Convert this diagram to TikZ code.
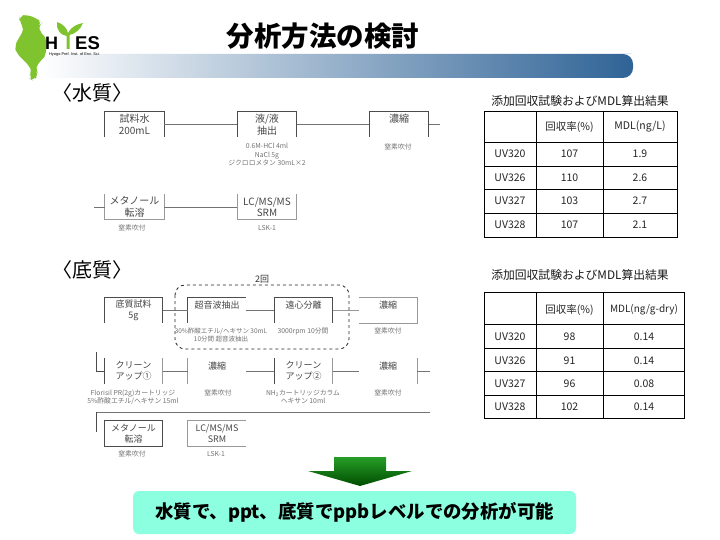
\documentclass[tikz,border=0pt]{standalone}
\usepackage{fontspec}
\setmainfont{Noto Sans CJK JP}
\newfontfamily\logofont{Liberation Sans}
\usetikzlibrary{calc}
\definecolor{bannerblue}{HTML}{2F6396}
\definecolor{leafgreen}{HTML}{7FC42E}
\definecolor{calloutfill}{HTML}{8CFFE0}
\newcommand{\fs}[1]{\fontsize{#1}{#1}\selectfont}
\tikzset{
  flowbox/.style={inner sep=0pt,minimum width=#1,align=center,font=\fontsize{10}{11.5}\selectfont,text=black!72},
  flowbox/.default=59pt,
  wbox/.style={flowbox=59pt,minimum height=25pt},
  sbox/.style={flowbox=58pt,minimum height=25pt,font=\fontsize{9}{11}\selectfont},
  boxline/.style={draw=black!70,line width=0.8pt},
  paleline/.style={draw=black!40,line width=0.8pt},
  linkline/.style={draw=black!55,line width=0.7pt},
  notetext/.style={inner sep=0pt,align=center,font=\fontsize{6.8}{8.2}\selectfont,text=black!55},
  cell/.style={inner sep=0pt,font=\fontsize{10.5}{12}\selectfont,text=black!85},
  gridline/.style={draw=black,line width=0.8pt},
  section/.style={inner sep=0pt,font=\fs{20}},
  caption/.style={inner sep=0pt,font=\fs{11.8},text=black!90}
}
\begin{document}
\begin{tikzpicture}[x=1pt,y=-1pt]
\useasboundingbox (0,0) rectangle (720,540);
\fill[white] (0,0) rectangle (720,540);
% banner
\path[left color=white,right color=bannerblue,shading angle=90,rounded corners=10pt]
  (40,54) [sharp corners] -- (40,78) -- (622,78) [rounded corners=10pt] -- (633,78) -- (633,54) -- (622,54) [sharp corners] -- cycle;
% logo
\begin{scope}[shift={(10,10)},x=0.3333pt,y=-0.3333pt]
  \fill[leafgreen,rounded corners=5pt] (28,18) -- (50,14) -- (80,25) -- (96,38) -- (88,48) -- (85,60) -- (100,75) -- (110,88) -- (108,135) -- (95,150) -- (80,165) -- (78,180) -- (86,195) -- (70,212) -- (56,205) -- (65,185) -- (60,170) -- (45,155) -- (20,130) -- (14,110) -- (25,85) -- (38,70) -- (40,50) -- (28,32) -- cycle;
\end{scope}
\fill[leafgreen] (66.5,49) -- (66.5,36) .. controls (60,35) and (56,29) .. (57,22) .. controls (63,24) and (67,28) .. (68,33) .. controls (71,27) and (77,24) .. (83,23) .. controls (81,29) and (75,34) .. (69.5,35) -- (69.5,49) -- cycle;
\node[inner sep=0pt,font=\logofont\bfseries\fs{18},anchor=center] (logoH) at (51.5,43) {H};
\node[inner sep=0pt,font=\logofont\bfseries\fs{18.5},anchor=center] (logoES) at (87.5,43) {ES};
\node[inner sep=0pt,font=\logofont\fs{3.9},anchor=center] (logosub) at (74.5,54) {Hyogo Pref. Inst. of Env. Sci.};
% title
\node[inner sep=0pt,font=\bfseries\fs{27.5}] (title) at (323,36) {分析方法の検討};
% sections
\node[section] (secw) at (92.5,93) {〈水質〉};
\node[section] (secs) at (92.5,270) {〈底質〉};
% water flow
\node[wbox] (w1) at (134.5,124.5) {試料水\\200mL};
\node[wbox] (w2) at (267,124.5) {液/液\\抽出};
\node[wbox] (w3) at (399,124.5) {濃縮\\\mbox{}};
\node[wbox] (w4) at (134.5,207) {メタノール\\転溶};
\node[wbox] (w5) at (267,207) {LC/MS/MS\\SRM};
\coordinate (w3out) at (440,124.5);
\coordinate (w4in) at (94,207);
\foreach \n in {w1,w2,w3}
  \draw[boxline] (\n.south west) -- (\n.north west) -- (\n.north east) -- (\n.south east);
\foreach \n in {w4,w5}
  \draw[paleline] (\n.north west) -- (\n.south west) -- (\n.south east) -- (\n.north east);
\draw[linkline] (w1) -- (w2);
\draw[linkline] (w2) -- (w3);
\draw[linkline] (w3) -- (w3out);
\draw[linkline] (w4in) -- (w4);
\draw[linkline] (w4) -- (w5);
\node[notetext] (wn1) at (267,154.5) {0.6M-HCl 4ml\\NaCl 5g\\ジクロロメタン 30mL×2};
\node[notetext] (wn2) at (398,147) {窒素吹付};
\node[notetext] (wn3) at (132,228) {窒素吹付};
\node[notetext] (wn4) at (267,228) {LSK-1};
% sediment flow, row 1
\node[sbox] (s1) at (133.5,310.5) {底質試料\\5g};
\node[sbox] (s2) at (217,310.5) {超音波抽出\\\mbox{}};
\node[sbox] (s3) at (303.5,310.5) {遠心分離\\\mbox{}};
\node[sbox] (s4) at (388,310.5) {濃縮\\\mbox{}};
\draw[boxline] (s1.south west) -- (s1.north west) -- (s1.north east) -- (s1.south east);
\draw[boxline] (s2.south west) -- (s2.north west) -- (s2.north east);
\draw[boxline] (s3.south west) -- (s3.north west) -- (s3.north east) -- (s3.south east);
\draw[paleline] (s4.north west) -- (s4.north east) -- (s4.south east) -- (s4.south west);
\draw[linkline] (s1) -- (s2);
\draw[linkline] (s2) -- (s3);
\draw[paleline] (s3) -- (s4);
\node[inner sep=0pt,font=\fs{9},text=black!80] (twice) at (262,279) {2回};
\draw[draw=black!85,line width=0.8pt,dashed,rounded corners=10pt] (175,285) rectangle (349,349);
\node[notetext,font=\fontsize{6.5}{8.2}\selectfont] (sn1) at (221,335) {30\%酢酸エチル/ヘキサン 30mL\\10分間 超音波抽出};
\node[notetext] (sn2) at (303,331) {3000rpm 10分間};
\node[notetext] (sn3) at (388,331) {窒素吹付};
% sediment flow, row 2
\node[sbox] (r1) at (133.5,371) {クリーン\\アップ①};
\node[sbox] (r2) at (217,371) {濃縮\\\mbox{}};
\node[sbox] (r3) at (303.5,371) {クリーン\\アップ②};
\node[sbox] (r4) at (388,371) {濃縮\\\mbox{}};
\draw[boxline] (r1.south west) -- (r1.north west);
\draw[paleline] (r1.north east) -- (r1.south east);
\draw[paleline] (r2.north west) -- (r2.south west);
\draw[boxline] (r3.south west) -- (r3.north west);
\draw[paleline] (r3.north east) -- (r3.south east);
\draw[paleline] (r4.north east) -- (r4.south east);
\coordinate (r1top) at (96,352);
\coordinate (r4out) at (430,371);
\draw[boxline] (r1top) |- (r1);
\draw[linkline] (r1) -- (r2);
\draw[linkline] (r2) -- (r3);
\draw[linkline] (r3) -- (r4);
\draw[linkline] (r4) -- (r4out);
\node[notetext] (rn1) at (133,397) {Florisil PR(2g)カートリッジ\\5\%酢酸エチル/ヘキサン 15ml};
\node[notetext] (rn2) at (218,393) {窒素吹付};
\node[notetext] (rn3) at (303,397) {NH\textsubscript{2}カートリッジカラム\\ヘキサン 10ml};
\node[notetext] (rn4) at (388,393) {窒素吹付};
% sediment flow, row 3
\node[sbox] (t1) at (133.5,433.5) {メタノール\\転溶};
\node[sbox] (t2) at (217,433.5) {LC/MS/MS\\SRM};
\draw[boxline] (t1.south west) rectangle (t1.north east);
\draw[paleline] (t2.north east) -- (t2.north west) -- (t2.south west) -- (t2.south east);
\coordinate (t1a) at (430,412);
\coordinate (t1b) at (96,412);
\coordinate (t1c) at (96,432);
\draw[linkline] (t1a) -- (t1b);
\draw[boxline] (t1b) -- (t1c);
\node[notetext] (tn1) at (132,454) {窒素吹付};
\node[notetext] (tn2) at (216,454) {LSK-1};
% table 1
\node[caption] (cap1) at (580,101) {添加回収試験およびMDL算出結果};
\draw[gridline] (484,111) rectangle (677,237);
\foreach \y in {142,166,189,213} \draw[gridline] (484,\y) -- (677,\y);
\foreach \x in {536,603} \draw[gridline] (\x,111) -- (\x,237);
\node[cell] (a01) at (569.5,127) {回収率(\%)};
\node[cell] (a02) at (640,127) {MDL(ng/L)};
\foreach \yy/\nm/\ra/\mdl [count=\i] in {154/UV320/107/1.9,178/UV326/110/2.6,201/UV327/103/2.7,225/UV328/107/2.1}{
  \node[cell] (a\i0) at (510,\yy) {\nm};
  \node[cell] (a\i1) at (569.5,\yy) {\ra};
  \node[cell] (a\i2) at (640,\yy) {\mdl};
}
% table 2
\node[caption] (cap2) at (580,275) {添加回収試験およびMDL算出結果};
\draw[gridline] (484,292) rectangle (684,418);
\foreach \y in {324,348,371,395} \draw[gridline] (484,\y) -- (684,\y);
\foreach \x in {536,603} \draw[gridline] (\x,292) -- (\x,418);
\node[cell] (b01) at (569.5,310) {回収率(\%)};
\node[cell,font=\fs{10}] (b02) at (644,310) {MDL(ng/g-dry)};
\foreach \yy/\nm/\ra/\mdl [count=\i] in {337/UV320/98/0.14,361/UV326/91/0.14,384/UV327/96/0.08,407/UV328/102/0.14}{
  \node[cell] (b\i0) at (510,\yy) {\nm};
  \node[cell] (b\i1) at (569.5,\yy) {\ra};
  \node[cell] (b\i2) at (644,\yy) {\mdl};
}
% arrow
\path[top color=green!55!black!85,bottom color=green!30!black,shading angle=0]
  (334,457) -- (386,457) -- (386,471) -- (412,471) -- (360,486) -- (308,471) -- (334,471) -- cycle;
% callout
\node[fill=calloutfill,rounded corners=6pt,minimum width=443pt,minimum height=43pt,inner sep=0pt,font=\bfseries\fs{18.4}] (result) at (354.5,512.5) {水質で、ppt、底質でppbレベルでの分析が可能};
\end{tikzpicture}
\end{document}
